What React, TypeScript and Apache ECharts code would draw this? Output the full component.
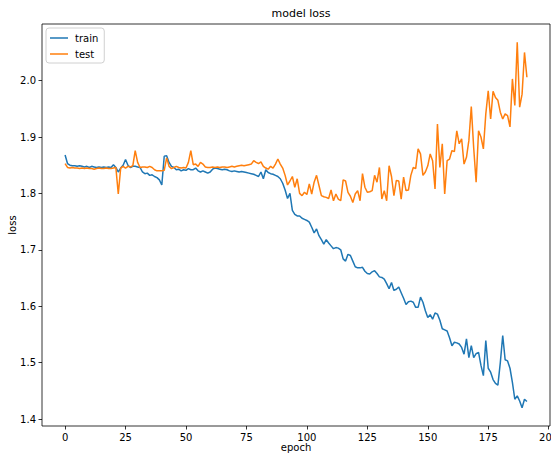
import React, { useEffect, useRef } from "react";
import * as echarts from "echarts";

const trainLoss: number[] = [
  1.868, 1.853, 1.850, 1.849, 1.849, 1.848, 1.849, 1.848, 1.847, 1.848,
  1.846, 1.848, 1.847, 1.846, 1.847, 1.846, 1.847, 1.846, 1.847, 1.846,
  1.851, 1.846, 1.838, 1.845, 1.850, 1.860, 1.850, 1.846, 1.848, 1.848,
  1.847, 1.846, 1.838, 1.835, 1.836, 1.832, 1.833, 1.830, 1.828, 1.824,
  1.815, 1.866, 1.867, 1.855, 1.848, 1.846, 1.842, 1.843, 1.840, 1.842,
  1.841, 1.844, 1.842, 1.842, 1.845, 1.840, 1.838, 1.840, 1.838, 1.836,
  1.838, 1.843, 1.845, 1.844, 1.843, 1.842, 1.843, 1.842, 1.840, 1.839,
  1.840, 1.839, 1.838, 1.839, 1.838, 1.837, 1.836, 1.835, 1.834, 1.832,
  1.830, 1.838, 1.826, 1.842, 1.837, 1.835, 1.834, 1.832, 1.830, 1.826,
  1.818, 1.806, 1.791, 1.800, 1.770, 1.763, 1.760, 1.760, 1.756, 1.754,
  1.752, 1.749, 1.740, 1.730, 1.737, 1.725, 1.718, 1.710, 1.718, 1.712,
  1.707, 1.702, 1.704, 1.703, 1.700, 1.684, 1.680, 1.692, 1.690, 1.680,
  1.670, 1.668, 1.668, 1.669, 1.662, 1.658, 1.657, 1.661, 1.663, 1.658,
  1.652, 1.651, 1.648, 1.640, 1.631, 1.642, 1.628, 1.630, 1.634, 1.624,
  1.614, 1.603, 1.608, 1.609, 1.607, 1.598, 1.598, 1.616, 1.607, 1.592,
  1.580, 1.585, 1.577, 1.588, 1.586, 1.575, 1.560, 1.558, 1.556, 1.544,
  1.530, 1.536, 1.535, 1.533, 1.527, 1.515, 1.542, 1.509, 1.530, 1.509,
  1.516, 1.518, 1.495, 1.477, 1.539, 1.490, 1.483, 1.470, 1.463, 1.460,
  1.500, 1.548, 1.505, 1.503, 1.490, 1.465, 1.435, 1.441, 1.432, 1.420,
  1.435, 1.431,
];

const testLoss: number[] = [
  1.853, 1.846, 1.845, 1.846, 1.845, 1.845, 1.844, 1.845, 1.844, 1.845,
  1.844, 1.844, 1.843, 1.844, 1.845, 1.844, 1.844, 1.845, 1.844, 1.844,
  1.845, 1.846, 1.799, 1.845, 1.848, 1.845, 1.848, 1.847, 1.849, 1.876,
  1.855, 1.846, 1.847, 1.847, 1.846, 1.848, 1.846, 1.842, 1.840, 1.840,
  1.840, 1.841, 1.863, 1.848, 1.844, 1.846, 1.848, 1.846, 1.845, 1.846,
  1.845, 1.855, 1.876, 1.851, 1.852, 1.848, 1.855, 1.852, 1.847, 1.846,
  1.846, 1.847, 1.846, 1.847, 1.846, 1.847, 1.847, 1.846, 1.847, 1.848,
  1.847, 1.848, 1.849, 1.850, 1.849, 1.850, 1.851, 1.852, 1.858, 1.855,
  1.853, 1.856, 1.848, 1.845, 1.843, 1.848, 1.845, 1.852, 1.861, 1.852,
  1.845, 1.832, 1.815, 1.822, 1.830, 1.811, 1.826, 1.800, 1.796, 1.802,
  1.798, 1.817, 1.799, 1.820, 1.832, 1.814, 1.796, 1.794, 1.793, 1.791,
  1.806, 1.787, 1.799, 1.790, 1.787, 1.824, 1.822, 1.802, 1.795, 1.784,
  1.799, 1.805, 1.787, 1.835, 1.811, 1.802, 1.803, 1.805, 1.832, 1.820,
  1.846, 1.790, 1.805, 1.787, 1.849, 1.830, 1.796, 1.823, 1.822, 1.790,
  1.829, 1.805, 1.806, 1.832, 1.846, 1.844, 1.879, 1.870, 1.832, 1.838,
  1.849, 1.870, 1.858, 1.808, 1.923, 1.846, 1.888, 1.799, 1.858, 1.861,
  1.876, 1.874, 1.911, 1.888, 1.897, 1.852, 1.864, 1.894, 1.954, 1.880,
  1.820, 1.911, 1.900, 1.879, 1.941, 1.982, 1.932, 1.981, 1.970, 1.965,
  1.944, 1.932, 1.941, 1.938, 1.918, 2.003, 1.956, 2.068, 1.953, 1.976,
  2.050, 2.006,
];

const xTicks: number[] = [0, 25, 50, 75, 100, 125, 150, 175, 200];
const yTicks: number[] = [1.4, 1.5, 1.6, 1.7, 1.8, 1.9, 2.0];

const FONT = "DejaVu Sans";

export default function App() {
  const ref = useRef<HTMLDivElement>(null);

  useEffect(() => {
    if (!ref.current) return;
    const chart = echarts.init(ref.current, undefined, { renderer: "svg" });
    const n = trainLoss.length;
    const xPad = (n - 1) * 0.05;
    const all = trainLoss.concat(testLoss);
    const lo = Math.min(...all);
    const hi = Math.max(...all);
    const yPad = (hi - lo) * 0.05;

    const axisCommon = {
      axisLine: { show: false, onZero: false },
      splitLine: { show: false },
      nameMoveOverlap: false,
    };

    chart.setOption({
      animation: false,
      backgroundColor: "#ffffff",
      textStyle: { fontFamily: FONT },
      title: {
        text: "model loss",
        left: 296,
        top: 3,
        textAlign: "center",
        textStyle: { fontFamily: FONT, fontSize: 11, fontWeight: "normal", color: "#000" },
      },
      legend: {
        orient: "vertical",
        left: 46,
        top: 28,
        data: ["train", "test"],
        icon: "rect",
        itemWidth: 18,
        itemHeight: 1.5,
        itemGap: 6,
        padding: [5, 6, 4, 4],
        borderColor: "#d0d0d0",
        borderWidth: 1,
        borderRadius: 3,
        backgroundColor: "rgba(255,255,255,0.8)",
        textStyle: { fontFamily: FONT, fontSize: 10, color: "#000", padding: [0, 0, 0, 2] },
      },
      grid: {
        left: 42,
        right: 1,
        top: 24,
        bottom: 31,
        containLabel: false,
        outerBoundsMode: "none",
        show: true,
        borderColor: "#000",
        borderWidth: 0.8,
        backgroundColor: "transparent",
      },
      xAxis: {
        ...axisCommon,
        type: "value",
        min: -xPad,
        max: n - 1 + xPad,
        name: "epoch",
        nameLocation: "middle",
        nameGap: 16,
        nameTextStyle: { fontFamily: FONT, fontSize: 10, color: "#000" },
        axisTick: {
          show: true,
          length: 3.5,
          lineStyle: { color: "#000", width: 0.8 },
          customValues: xTicks,
        },
        axisLabel: {
          fontFamily: FONT,
          fontSize: 10,
          color: "#000",
          margin: 6,
          customValues: xTicks,
        },
      },
      yAxis: {
        ...axisCommon,
        type: "value",
        min: lo - yPad,
        max: hi + yPad,
        name: "loss",
        nameLocation: "middle",
        nameGap: 25,
        nameRotate: 90,
        nameTextStyle: { fontFamily: FONT, fontSize: 10, color: "#000" },
        axisTick: {
          show: true,
          length: 3.5,
          lineStyle: { color: "#000", width: 0.8 },
          customValues: yTicks,
        },
        axisLabel: {
          fontFamily: FONT,
          fontSize: 10,
          color: "#000",
          margin: 6,
          customValues: yTicks,
          formatter: (v: number) => v.toFixed(1),
        },
      },
      series: [
        {
          name: "train",
          type: "line",
          data: trainLoss.map((v, i) => [i, v]),
          showSymbol: false,
          symbol: "none",
          lineStyle: { color: "#1f77b4", width: 1.5 },
          itemStyle: { color: "#1f77b4" },
        },
        {
          name: "test",
          type: "line",
          data: testLoss.map((v, i) => [i, v]),
          showSymbol: false,
          symbol: "none",
          lineStyle: { color: "#ff7f0e", width: 1.5 },
          itemStyle: { color: "#ff7f0e" },
        },
      ],
    });

    return () => chart.dispose();
  }, []);

  return (
    <div
      ref={ref}
      style={{ position: "fixed", left: 0, top: 0, width: 551, height: 457 }}
    />
  );
}
